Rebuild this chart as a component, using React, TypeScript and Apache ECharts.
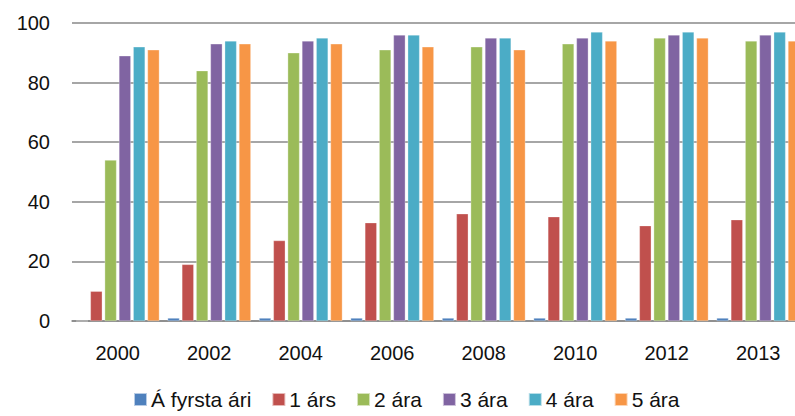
import React, { useEffect, useRef } from "react";
import * as echarts from "echarts";

const categories = ["2000", "2002", "2004", "2006", "2008", "2010", "2012", "2013"];
const seriesNames = ["Á fyrsta ári", "1 árs", "2 ára", "3 ára", "4 ára", "5 ára"];
const firstYear = [0, 1, 1, 1, 1, 1, 1, 1];
const oneYear = [10, 19, 27, 33, 36, 35, 32, 34];
const twoYears = [54, 84, 90, 91, 92, 93, 95, 94];
const threeYears = [89, 93, 94, 96, 95, 95, 96, 96];
const fourYears = [92, 94, 95, 96, 95, 97, 97, 97];
const fiveYears = [91, 93, 93, 92, 91, 94, 95, 94];
const yTicks = { min: 0, max: 100, interval: 20 };

const colors = ["#4F81BD", "#C0504D", "#9BBB59", "#8064A2", "#4BACC6", "#F79646"];
const allData = [firstYear, oneYear, twoYears, threeYears, fourYears, fiveYears];

export default function App() {
  const ref = useRef<HTMLDivElement>(null);
  useEffect(() => {
    if (!ref.current) return;
    const chart = echarts.init(ref.current, undefined, { renderer: "svg" });
    const font = "'Liberation Sans', Arial, sans-serif";
    chart.setOption({
      animation: false,
      color: colors,
      textStyle: { fontFamily: font },
      grid: { left: 72, right: 0, top: 23, bottom: 95 },
      legend: {
        data: seriesNames,
        left: 128,
        bottom: 1,
        itemWidth: 13,
        itemHeight: 13,
        itemGap: 20,
        icon: "rect",
        textStyle: { fontSize: 21, color: "#111", fontFamily: font, padding: [0, 0, 0, -1] },
      },
      xAxis: {
        type: "category",
        data: categories,
        axisLine: { show: true, lineStyle: { color: "#888", width: 1.5 } },
        axisTick: { show: false },
        axisLabel: { fontSize: 20, color: "#111", margin: 22 },
      },
      yAxis: {
        type: "value",
        min: yTicks.min,
        max: yTicks.max,
        interval: yTicks.interval,
        axisLine: { show: false },
        axisTick: { show: false },
        axisLabel: { fontSize: 20, color: "#111", margin: 22 },
        splitLine: { lineStyle: { color: "#888", width: 1.5 } },
      },
      series: seriesNames.map((name, i) => ({
        name,
        type: "bar",
        data: allData[i],
        barGap: "20%",
        barCategoryGap: "9%",
        itemStyle: { color: colors[i], borderColor: "rgba(255,255,255,0.6)", borderWidth: 0.5 },
      })),
    });
    return () => chart.dispose();
  }, []);
  return (
    <div style={{ position: "fixed", left: 0, top: 0, width: 795, height: 416, overflow: "hidden", background: "#fff" }}>
      <div ref={ref} style={{ width: 804, height: 416 }} />
    </div>
  );
}
